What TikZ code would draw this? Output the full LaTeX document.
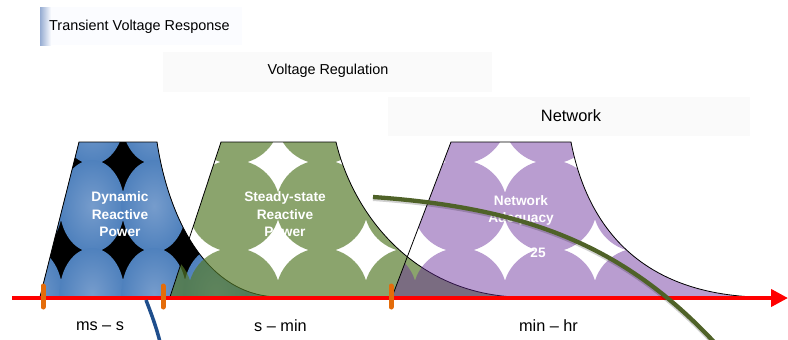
\documentclass[tikz,border=0pt]{standalone}
\usepackage{fontspec}
\setmainfont{Liberation Sans}
\usetikzlibrary{arrows.meta}

\definecolor{bluefill}{RGB}{79,129,189}
\definecolor{bluelite}{RGB}{118,156,204}
\definecolor{greenbase}{RGB}{85,122,40}
\definecolor{purplebase}{RGB}{103,42,153}
\definecolor{arcgreen}{RGB}{79,98,40}
\definecolor{arcblue}{RGB}{31,78,140}
\definecolor{tickorange}{RGB}{228,108,10}
\definecolor{boxgrey}{RGB}{250,250,250}
\definecolor{boxtint}{RGB}{251,252,255}
\definecolor{boxedge}{RGB}{150,172,210}

% outlines of the three time-scale regions
\def\blueshape{(79,142) -- (157,142) .. controls (168,215) and (205,297) .. (280,297) -- (40,297) -- cycle}
\def\greenshape{(221,142) -- (336,142) .. controls (352,210) and (410,292) .. (515,297) -- (170,297) -- cycle}
\def\purpleshape{(451,142) -- (571,142) .. controls (585,215) and (630,292) .. (755,297) -- (392,297) -- cycle}

\tikzset{
  outline/.style={draw=black, line width=0.8},
  regiontext/.style={text=white, align=center, inner sep=0pt,
    font=\bfseries\fontsize{13.7}{17.5}\selectfont},
  bandtext/.style={text=black, inner sep=0pt, font=\fontsize{14.4}{17}\selectfont},
  axistext/.style={text=black, inner sep=0pt, font=\fontsize{16.3}{19}\selectfont},
  tickmark/.style={draw=tickorange, line width=5, line cap=round},
}

\begin{document}
\begin{tikzpicture}[x=1pt,y=-1pt]
\useasboundingbox (0,0) rectangle (788,340);
\fill[white] (0,0) rectangle (788,340);

% band labels
\fill[boxtint] (40,7) rectangle (242,45);
\shade[left color=boxedge, right color=boxtint] (40,7) rectangle (51,45);
\node[bandtext, anchor=west] (tvr) at (49,26.5) {Transient Voltage Response};
\fill[boxgrey] (163,52) rectangle (492,92);
\node[bandtext] (vreg) at (328,71) {Voltage Regulation};
\fill[boxgrey] (388,97) rectangle (750,136);
\node[bandtext, font=\fontsize{16.4}{19}\selectfont] (net) at (571,116) {Network};

% dynamic reactive power region: shaded discs on black
\begin{scope}
  \clip \blueshape;
  \fill[black] (30,130) rectangle (290,300);
  \foreach \i in {-1,...,3} {
    \foreach \j in {0,...,2} {
      \shade[inner color=bluelite, outer color=bluefill]
        ({92+62*\i},{118+88*\j}) ellipse [x radius=32.5pt, y radius=46pt];
    }
  }
\end{scope}
\draw[outline] \blueshape;
\node[regiontext] (dyn) at (120,214.5) {Dynamic\\Reactive\\Power};

% steady-state region: translucent discs
\begin{scope}
  \clip \greenshape;
  \fill[greenbase, fill opacity=0.68]
    \foreach \i in {-1,...,3} { \foreach \j in {0,...,2} {
      ({234+88*\i},{118+88*\j}) circle [radius=46pt] } };
\end{scope}
\draw[outline] \greenshape;
\node[regiontext] (ss) at (285,214.5) {Steady-state\\Reactive\\Power};

% network adequacy region
\begin{scope}
  \clip \purpleshape;
  \fill[purplebase, fill opacity=0.46]
    \foreach \i in {-1,...,3} { \foreach \j in {0,...,2} {
      ({460+90*\i},{118+88*\j}) ellipse [x radius=47pt, y radius=46pt] } };
\end{scope}
\draw[outline] \purpleshape;
\node[regiontext] (na) at (521,210.5) {Network\\Adequacy};
\node[regiontext] (yr) at (538,253) {25};

% time axis
\coordinate (axstart) at (12,298);
\coordinate (axend) at (788,298);
\draw[red, line width=4, -{Triangle[length=17pt,width=17pt]}] (axstart) -- (axend);

\foreach \x/\n in {43/ta,163/tb,391/tc} {
  \coordinate (\n top) at (\x,286);
  \coordinate (\n bot) at (\x,307);
  \draw[tickmark] (\n top) -- (\n bot);
}

\node[axistext] (l1) at (100,326) {ms – s};
\node[axistext] (l2) at (280.5,326) {s – min};
\node[axistext] (l3) at (548.5,326) {min – hr};

% sweeping arcs
\coordinate (ba) at (146,300);
\coordinate (bb) at (160,342);
\draw[arcblue, line width=3.5] (ba) .. controls (151,313) and (156,326) .. (bb);

\coordinate (ga) at (373,197);
\coordinate (gb) at (714,342);
\draw[black, opacity=0.18, line width=5] ([yshift=-1.5pt]ga) .. controls (523,209) and (622,245.2) .. ([yshift=-1.5pt]gb);
\draw[arcgreen, line width=4.3] (ga) .. controls (523,207.5) and (622,243.7) .. (gb);
\end{tikzpicture}
\end{document}
